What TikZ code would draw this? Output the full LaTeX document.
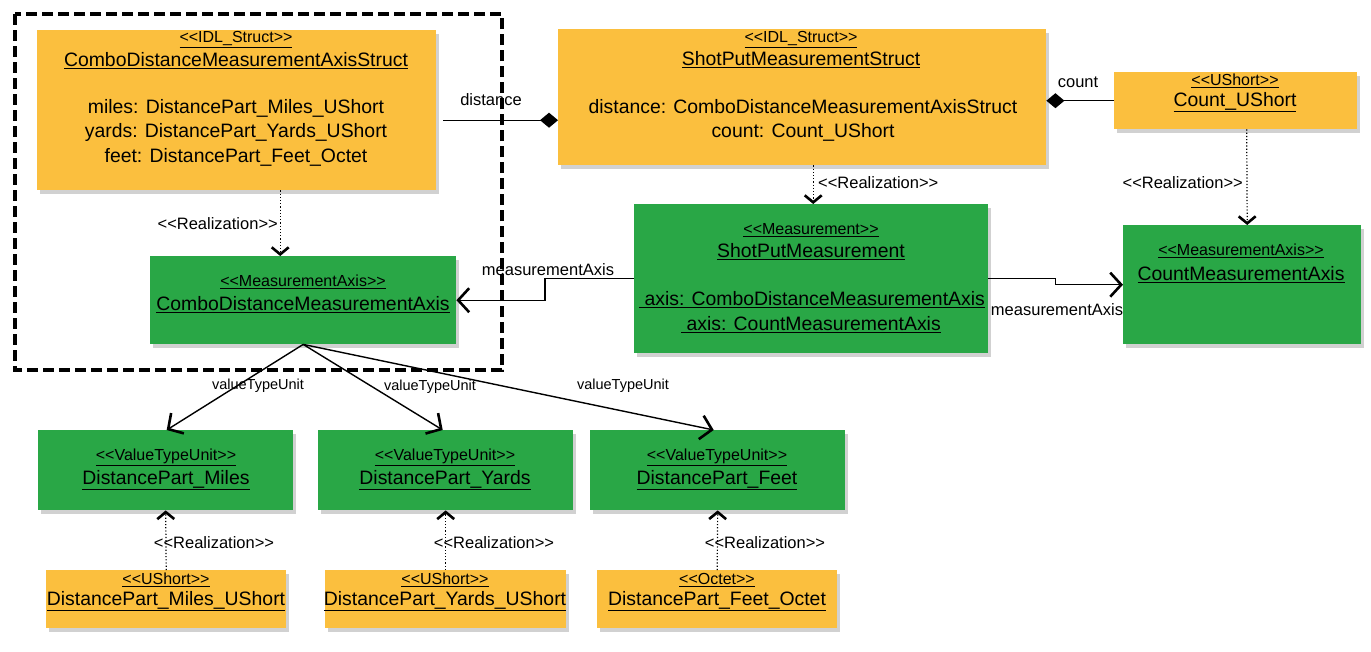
\documentclass[tikz,border=0pt]{standalone}
\usepackage{fontspec}
\setmainfont{Liberation Sans}[Ligatures=ResetAll]
\usetikzlibrary{arrows.meta,shadows,calc}
\definecolor{umlorange}{RGB}{251,191,62}
\definecolor{umlgreen}{RGB}{41,167,70}
\newcommand{\sttxt}[1]{<\kern0pt<#1>\kern0pt>}
\tikzset{
  boxbase/.style={draw=none, inner sep=0pt, anchor=north west,
    drop shadow={shadow xshift=3pt, shadow yshift=-4pt, opacity=0.3, fill=black!60}},
  obox/.style={boxbase, fill=umlorange},
  gbox/.style={boxbase, fill=umlgreen},
  stereo/.style={font=\fontsize{16}{18}\selectfont, inner sep=0pt},
  cname/.style={font=\fontsize{19.4}{22}\selectfont, inner sep=0pt},
  lbl/.style={font=\fontsize{16.5}{19}\selectfont, inner sep=1pt},
  vlbl/.style={font=\fontsize{14.5}{17}\selectfont, inner sep=1pt},
  conn/.style={line width=1.4pt},
  assoc/.style={conn, -{Straight Barb[length=11pt,width=24pt,line width=2.6pt]}},
  real/.style={line width=1.2pt, dotted, -{Straight Barb[length=7pt,width=17pt,line width=2.6pt]}},
  comp/.style={conn, -{Diamond[length=18pt,width=15pt,fill=black]}},
}
\begin{document}
\begin{tikzpicture}[x=1pt,y=-1pt]
\useasboundingbox (0,0) rectangle (1371,651);
% dashed package frame
\draw[line width=3.5pt, dash pattern=on 11pt off 5pt] (15,14) rectangle (502,370);

% boxes
\node[obox, minimum width=399pt, minimum height=160pt] (cs) at (37,30) {};
\node[obox, minimum width=488pt, minimum height=136pt] (ss) at (558,29) {};
\node[obox, minimum width=243pt, minimum height=57pt] (cu) at (1114,72) {};
\node[gbox, minimum width=354pt, minimum height=149pt] (sm) at (634,204) {};
\node[gbox, minimum width=238pt, minimum height=119pt] (cma) at (1123,225) {};
\node[gbox, minimum width=306pt, minimum height=88pt] (ca) at (150,256) {};
\node[gbox, minimum width=255pt, minimum height=80pt] (vm) at (38,430) {};
\node[gbox, minimum width=255pt, minimum height=80pt] (vy) at (318,430) {};
\node[gbox, minimum width=255pt, minimum height=80pt] (vf) at (590,430) {};
\node[obox, minimum width=240pt, minimum height=58pt] (um) at (46,570) {};
\node[obox, minimum width=241pt, minimum height=58pt] (uy) at (325,570) {};
\node[obox, minimum width=240pt, minimum height=58pt] (uo) at (597,570) {};

% texts
\node[stereo] (cs-s) at (236,40) {\underline{\sttxt{IDL\_Struct}}};
\node[cname] (cs-n) at (236,61) {\underline{ComboDistanceMeasurementAxisStruct}};
\node[cname] (cs-a1) at (236,108) {miles: DistancePart\_Miles\_UShort};
\node[cname] (cs-a2) at (236,132) {yards: DistancePart\_Yards\_UShort};
\node[cname] (cs-a3) at (236,157) {feet: DistancePart\_Feet\_Octet};

\node[stereo] (ss-s) at (801,40) {\underline{\sttxt{IDL\_Struct}}};
\node[cname] (ss-n) at (801,60) {\underline{ShotPutMeasurementStruct}};
\node[cname] (ss-a1) at (803,107) {distance: ComboDistanceMeasurementAxisStruct};
\node[cname] (ss-a2) at (803,132) {count: Count\_UShort};

\node[stereo] (cu-s) at (1235,81) {\underline{\sttxt{UShort}}};
\node[cname] (cu-n) at (1235,102) {\underline{Count\_UShort}};

\node[stereo] (sm-s) at (811,230) {\underline{\sttxt{Measurement}}};
\node[cname] (sm-n) at (811,252) {\underline{ShotPutMeasurement}};
\node[cname] (sm-a1) at (812,300) {\underline{ axis: ComboDistanceMeasurementAxis}};
\node[cname] (sm-a2) at (811,325) {\underline{ axis: CountMeasurementAxis}};

\node[stereo] (cma-s) at (1241,251) {\underline{\sttxt{MeasurementAxis}}};
\node[cname] (cma-n) at (1241,275) {\underline{CountMeasurementAxis}};

\node[stereo] (ca-s) at (303,282) {\underline{\sttxt{MeasurementAxis}}};
\node[cname] (ca-n) at (303,305) {\underline{ComboDistanceMeasurementAxis}};

\node[stereo] (vm-s) at (166,457) {\underline{\sttxt{ValueTypeUnit}}};
\node[cname] (vm-n) at (166,480) {\underline{DistancePart\_Miles}};
\node[stereo] (vy-s) at (445,457) {\underline{\sttxt{ValueTypeUnit}}};
\node[cname] (vy-n) at (445,480) {\underline{DistancePart\_Yards}};
\node[stereo] (vf-s) at (717,457) {\underline{\sttxt{ValueTypeUnit}}};
\node[cname] (vf-n) at (717,480) {\underline{DistancePart\_Feet}};

\node[stereo] (um-s) at (166,580) {\underline{\sttxt{UShort}}};
\node[cname] (um-n) at (166,601) {\underline{DistancePart\_Miles\_UShort}};
\node[stereo] (uy-s) at (445,580) {\underline{\sttxt{UShort}}};
\node[cname] (uy-n) at (445,601) {\underline{DistancePart\_Yards\_UShort}};
\node[stereo] (uo-s) at (717,580) {\underline{\sttxt{Octet}}};
\node[cname] (uo-n) at (717,601) {\underline{DistancePart\_Feet\_Octet}};

% realizations
\draw[real] ([xshift=43.5pt]cs.south) -- ([xshift=-23pt]ca.north);
\node[lbl, anchor=east] (r1) at (279,224) {\sttxt{Realization}};
\draw[real] ([xshift=11pt]ss.south) -- ([xshift=2pt]sm.north);
\node[lbl, anchor=west] (r2) at (817,183) {\sttxt{Realization}};
\draw[real] ([xshift=11pt]cu.south) -- ([xshift=5pt]cma.north);
\node[lbl, anchor=east] (r3) at (1244,183) {\sttxt{Realization}};
\draw[real] (um.north) -- (vm.north |- vm.south);
\node[lbl] (r4) at (214,543) {\sttxt{Realization}};
\draw[real] (uy.north) -- (vy.south);
\node[lbl] (r5) at (494,543) {\sttxt{Realization}};
\draw[real] (uo.north) -- (vf.south);
\node[lbl] (r6) at (765,543) {\sttxt{Realization}};

% compositions
\coordinate (dstart) at ([xshift=7pt,yshift=-10pt]cs.east);
\draw[comp] (dstart) -- (ss.west |- dstart);
\node[lbl] (dl) at (491,100) {distance};
\draw[comp] (cu.west) -- (ss.east |- cu.west);
\node[lbl] (cl) at (1078,82) {count};

% measurement axis associations
\draw[assoc] (sm.west) -- ++(-89,0) |- (ca.east);
\node[lbl] (ml1) at (548,270) {measurementAxis};
\draw[assoc] (sm.east) -- ++(67,0) |- (cma.west);
\node[lbl] (ml2) at (1057,310) {measurementAxis};

% value type units
\draw[assoc] (ca.south) -- ([xshift=1pt]vm.north);
\node[vlbl] (v1) at (258,386) {valueTypeUnit};
\draw[assoc] (ca.south) -- ([xshift=-3pt]vy.north);
\node[vlbl] (v2) at (430,387) {valueTypeUnit};
\draw[assoc] (ca.south) -- ([xshift=-4pt]vf.north);
\node[vlbl] (v3) at (623,386) {valueTypeUnit};
\end{tikzpicture}
\end{document}
